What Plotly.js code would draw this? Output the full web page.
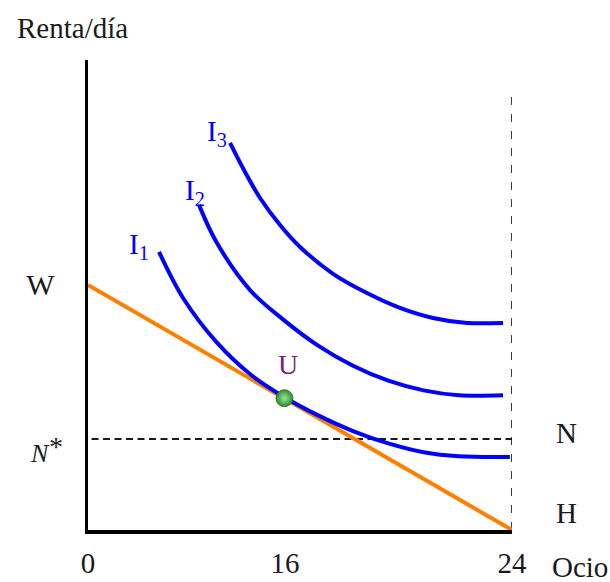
<!DOCTYPE html>
<html>
<head>
<meta charset="utf-8">
<script src="https://cdn.plot.ly/plotly-3.0.1.min.js"></script>
<style>html,body{margin:0;padding:0;background:#fff;}#chart{width:610px;height:582px;}</style>
</head>
<body>
<div id="chart"></div>
<script>
// Budget line (Ocio hours vs Renta/día)
const budgetX = [0, 24];
const budgetY = [13.87, 0];

// Indifference curves
const i1X = [4.02, 5.4, 7.3, 9.2, 11.15, 13.0, 15.0, 17.0, 19.0, 21.0, 23.88];
const i1Y = [15.74, 13.1, 10.6, 8.8, 7.5, 6.5, 5.6, 4.9, 4.4, 4.17, 4.13];
const i2X = [6.28, 7.3, 9.2, 11.0, 13.0, 15.0, 17.0, 19.0, 21.0, 23.49];
const i2Y = [18.40, 16.24, 13.55, 11.95, 10.45, 9.3, 8.45, 7.9, 7.62, 7.62];
const i3X = [8.04, 8.89, 9.74, 10.87, 12.0, 13.87, 15.79, 17.66, 19.53, 21.45, 23.49];
const i3Y = [21.91, 20.26, 18.79, 17.26, 16.02, 14.5, 13.41, 12.57, 12.0, 11.72, 11.72];

// Optimum point U
const optX = [11.12];
const optY = [7.46];

// Reference lines
const nStar = 5.15;
const hLineX = [0.2, 24.3];
const vLineX = [24, 24];
const vLineY = [0, 24.5];

// Tick labels
const xTickVals = [0, 11.15, 24];
const xTickText = ['0', '16', '24'];
const yTickVals = [13.87];
const yTickText = ['W'];

const serif = 'Liberation Serif, Times New Roman, serif';
const blue = '#0000ff';
const ink = '#1a1a1a';

const traces = [
  {x: hLineX, y: [nStar, nStar], mode: 'lines', line: {color: '#1a1a1a', width: 1.8, dash: '7px,4.5px'}, cliponaxis: false, hoverinfo: 'skip'},
  {x: vLineX, y: vLineY, mode: 'lines', line: {color: '#1a1a1a', width: 1.7, dash: '8px,9px'}, cliponaxis: false, hoverinfo: 'skip'},
  {x: budgetX, y: budgetY, mode: 'lines', line: {color: '#ff8000', width: 4}, cliponaxis: false},
  {x: i1X, y: i1Y, mode: 'lines', line: {color: blue, width: 4, shape: 'spline', smoothing: 1}, cliponaxis: false},
  {x: i2X, y: i2Y, mode: 'lines', line: {color: blue, width: 4, shape: 'spline', smoothing: 1}, cliponaxis: false},
  {x: i3X, y: i3Y, mode: 'lines', line: {color: blue, width: 4, shape: 'spline', smoothing: 1}, cliponaxis: false},
  {x: optX, y: optY, mode: 'markers', cliponaxis: false,
   marker: {size: 17, color: '#2e8b2e', gradient: {type: 'radial', color: '#9be39b'}, line: {width: 0.8, color: '#2a6a2a'}}}
];

const ann = (x, y, text, ref, extra) => Object.assign({x: x, y: y, xref: ref, yref: ref, text: text, showarrow: false,
  xanchor: 'center', yanchor: 'middle',
  font: {family: serif, size: 29, color: ink}}, extra || {});

const layout = {
  width: 610, height: 582,
  margin: {l: 88, r: 98, t: 60, b: 52},
  paper_bgcolor: '#fff', plot_bgcolor: '#fff',
  showlegend: false,
  xaxis: {range: [0, 24], showgrid: false, zeroline: false, showline: true, linecolor: '#000', linewidth: 3.5,
    ticks: '', tickvals: xTickVals, ticktext: xTickText, ticklabelstandoff: 5,
    tickfont: {family: serif, size: 29, color: ink}, fixedrange: true},
  yaxis: {range: [0, 26.6], showgrid: false, zeroline: false, showline: true, linecolor: '#000', linewidth: 3.5,
    ticks: '', tickvals: yTickVals, ticktext: yTickText, ticklabelstandoff: 24,
    tickfont: {family: serif, size: 30, color: ink}, fixedrange: true},
  annotations: [
    ann(-0.0377, 1.068, 'Renta/día', 'paper'),
    ann(2.89, 16.08, 'I<sub>1</sub>', 'x', {yref: 'y', font: {family: serif, size: 29, color: blue}}),
    ann(6.06, 19.13, 'I<sub>2</sub>', 'x', {yref: 'y', font: {family: serif, size: 29, color: blue}}),
    ann(7.30, 22.47, 'I<sub>3</sub>', 'x', {yref: 'y', font: {family: serif, size: 29, color: blue}}),
    ann(11.32, 9.34, 'U', 'x', {yref: 'y', font: {family: serif, size: 28, color: '#7a1f7a'}}),
    ann(-0.1132, 0.1638, '<i>N</i>', 'paper', {font: {family: serif, size: 26, color: ink}}),
    ann(-0.0755, 0.1766, '*', 'paper', {font: {family: serif, size: 28, color: ink}}),
    ann(1.1297, 0.2064, 'N', 'paper'),
    ann(1.1297, 0.0362, 'H', 'paper'),
    ann(1.160, -0.0787, 'Ocio', 'paper')
  ]
};

Plotly.newPlot('chart', traces, layout, {displayModeBar: false, staticPlot: true});
</script>
</body>
</html>
